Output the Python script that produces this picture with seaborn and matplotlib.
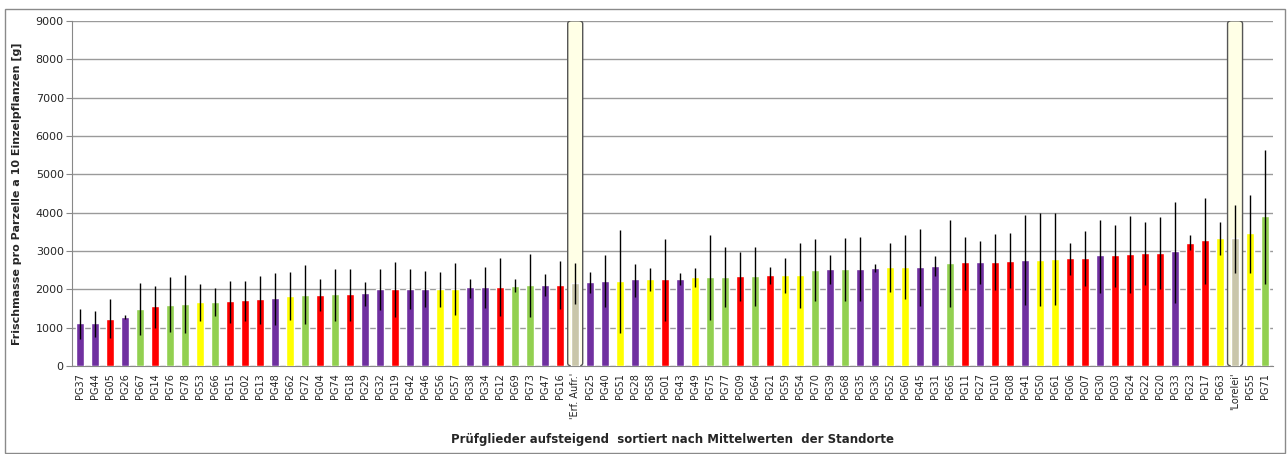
import numpy as np
import pandas as pd
import matplotlib
matplotlib.use('Agg')
import matplotlib.pyplot as plt
from matplotlib.patches import FancyBboxPatch, Rectangle
import seaborn as sns

# Prüfglieder, sortiert nach Mittelwert
labels = ['PG37', 'PG44', 'PG05', 'PG26', 'PG67', 'PG14', 'PG76', 'PG78', 'PG53', 'PG66',
          'PG15', 'PG02', 'PG13', 'PG48', 'PG62', 'PG72', 'PG04', 'PG74', 'PG18', 'PG29',
          'PG32', 'PG19', 'PG42', 'PG46', 'PG56', 'PG57', 'PG38', 'PG34', 'PG12', 'PG69',
          'PG73', 'PG47', 'PG16', "'Erf. Aufr.'", 'PG25', 'PG40', 'PG51', 'PG28', 'PG58', 'PG01',
          'PG43', 'PG49', 'PG75', 'PG77', 'PG09', 'PG64', 'PG21', 'PG59', 'PG54', 'PG70',
          'PG39', 'PG68', 'PG35', 'PG36', 'PG52', 'PG60', 'PG45', 'PG31', 'PG65', 'PG11',
          'PG27', 'PG10', 'PG08', 'PG41', 'PG50', 'PG61', 'PG06', 'PG07', 'PG30', 'PG03',
          'PG24', 'PG22', 'PG20', 'PG33', 'PG23', 'PG17', 'PG63', "'Lorelei'", 'PG55', 'PG71']

# Gruppe (Farbe): P=lila, R=rot, G=grün, Y=gelb, S=Standard
groups = ['P', 'P', 'R', 'P', 'G', 'R', 'G', 'G', 'Y', 'G',
          'R', 'R', 'R', 'P', 'Y', 'G', 'R', 'G', 'R', 'P',
          'P', 'R', 'P', 'P', 'Y', 'Y', 'P', 'P', 'R', 'G',
          'G', 'P', 'R', 'S', 'P', 'P', 'Y', 'P', 'Y', 'R',
          'P', 'Y', 'G', 'G', 'R', 'G', 'R', 'Y', 'Y', 'G',
          'P', 'G', 'P', 'P', 'Y', 'Y', 'P', 'P', 'G', 'R',
          'P', 'R', 'R', 'P', 'Y', 'Y', 'R', 'R', 'P', 'R',
          'R', 'R', 'R', 'P', 'R', 'R', 'Y', 'S', 'Y', 'G']

mean = [1113, 1113, 1226, 1270, 1487, 1565, 1600, 1626, 1670, 1670,
        1696, 1722, 1748, 1765, 1835, 1861, 1861, 1878, 1878, 1904,
        2009, 2009, 2009, 2009, 2009, 2009, 2052, 2070, 2070, 2096,
        2113, 2113, 2113, 2165, 2183, 2226, 2226, 2261, 2270, 2278,
        2278, 2322, 2322, 2322, 2348, 2348, 2374, 2374, 2374, 2513,
        2539, 2539, 2539, 2565, 2583, 2583, 2583, 2609, 2678, 2704,
        2704, 2722, 2748, 2774, 2774, 2791, 2826, 2826, 2896, 2887,
        2930, 2957, 2957, 2991, 3217, 3296, 3330, 3330, 3470, 3913]

err_hi = [1478, 1443, 1739, 1322, 2157, 2087, 2322, 2365, 2130, 2043,
          2226, 2226, 2339, 2417, 2461, 2626, 2270, 2539, 2539, 2200,
          2539, 2713, 2522, 2487, 2461, 2696, 2261, 2583, 2809, 2261,
          2922, 2391, 2739, 2687, 2461, 2896, 3557, 2652, 2557, 3322,
          2435, 2557, 3417, 3113, 2983, 3096, 2574, 2809, 3200, 3304,
          2896, 3348, 3374, 2652, 3209, 3417, 3583, 2861, 3800, 3374,
          3261, 3435, 3461, 3930, 4000, 4000, 3209, 3522, 3817, 3670,
          3904, 3748, 3878, 4270, 3417, 4374, 3748, 4209, 4470, 5635]

err_lo = [704, 765, 722, 1217, 809, 1000, 878, 852, 1183, 1304,
          1130, 1183, 1096, 1070, 1200, 1096, 1443, 1174, 1174, 1574,
          1461, 1278, 1478, 1530, 1548, 1322, 1783, 1504, 1304, 1922,
          1270, 1835, 1478, 1617, 1904, 1530, 870, 1809, 1957, 1174,
          2113, 2070, 1200, 1530, 1696, 1565, 2139, 1904, 1504, 1696,
          2139, 1696, 1696, 2443, 1930, 1739, 1574, 2348, 1530, 1983,
          2148, 1983, 2026, 1600, 1565, 1583, 2374, 2096, 1904, 2070,
          1904, 2113, 2000, 1643, 3026, 2139, 2887, 2417, 2417, 2139]

group_colors = {'P': '#7030A0', 'R': '#FF0000', 'G': '#92D050', 'Y': '#FFFF00', 'S': '#C9C6AA'}

df = pd.DataFrame({'label': labels, 'group': groups, 'mean': mean,
                   'hi': err_hi, 'lo': err_lo})

sns.set_style('white')
plt.rcParams['font.family'] = ['DejaVu Sans']

fig = plt.figure(figsize=(12.87, 4.54), dpi=100)
ax = fig.add_axes([0.056, 0.194, 0.933, 0.76])

palette = {l: group_colors[g] for l, g in zip(labels, groups)}
sns.barplot(data=df, x='label', y='mean', hue='label', palette=palette, legend=False,
            width=0.52, saturation=1, ax=ax, zorder=3)

x = np.arange(len(labels))
ax.vlines(x, df['lo'], df['hi'], color='black', lw=1.0, zorder=4)

# hervorgehobene Standardsorten
for i, g in enumerate(groups):
    if g == 'S':
        box = FancyBboxPatch((i - 0.5, 0), 1.0, 9000,
                             boxstyle='round,pad=0,rounding_size=0.25',
                             mutation_aspect=300,
                             facecolor='#FFFFE6', edgecolor='#555555', lw=1.0, zorder=2)
        ax.add_patch(box)

ax.set_ylim(0, 9000)
ax.set_xlim(-0.55, len(labels) - 0.48)
ax.set_yticks(np.arange(0, 9001, 1000))
ax.yaxis.grid(True, color='#9a9a9a', lw=1.0, zorder=0)
ax.set_axisbelow(True)
for s in ['top', 'right']:
    ax.spines[s].set_visible(False)
ax.spines['left'].set_color('#888888')
ax.spines['bottom'].set_color('#888888')
ax.tick_params(axis='y', labelsize=8, length=4, color='#888888', direction='out', left=True, pad=2)
ax.tick_params(axis='x', labelsize=7, length=0, pad=5, labelcolor='#222222')
ax.set_xticks(x)
ax.set_xticklabels(labels, rotation=90)

ax.set_ylabel('Frischmasse pro Parzelle a 10 Einzelpflanzen [g]', fontsize=8,
              fontweight='bold', labelpad=10)
ax.set_xlabel('Prüfglieder aufsteigend  sortiert nach Mittelwerten  der Standorte',
              fontsize=8.5, fontweight='bold', labelpad=10)

fig.patches.append(Rectangle((5 / 1287, 1 / 454), 1280 / 1287, 444 / 454,
                             transform=fig.transFigure, fill=False,
                             edgecolor='#8a8a8a', lw=1.0))

fig.savefig('out.png', dpi=100)
